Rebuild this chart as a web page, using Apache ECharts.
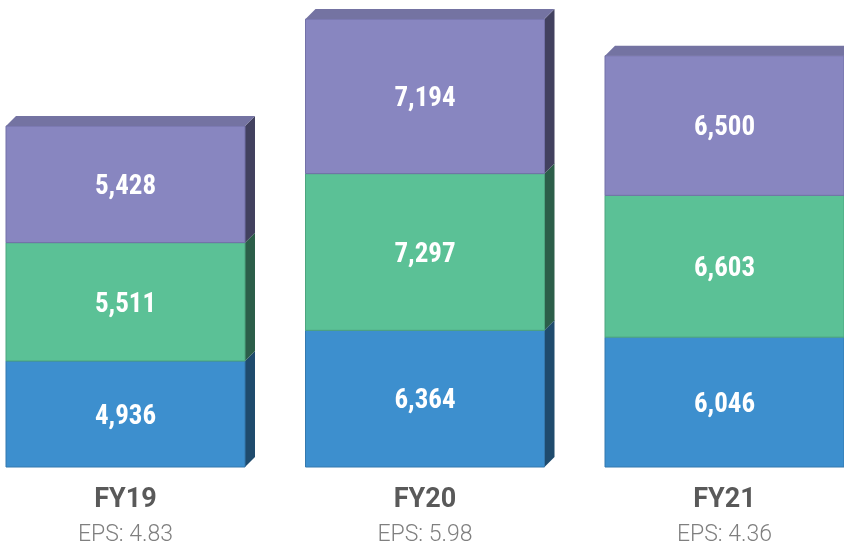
<!DOCTYPE html>
<html>
<head>
<meta charset="utf-8">
<script src="https://cdn.jsdelivr.net/npm/echarts@6/dist/echarts.min.js"></script>
<style>
  html, body { margin: 0; padding: 0; background: #fff; }
  #chart { width: 844px; height: 547px; }
</style>
</head>
<body>
<div id="chart"></div>
<script>
// datos del gráfico
const categories = ['FY19', 'FY20', 'FY21'];
const eps = ['4.83', '5.98', '4.36'];
const seriesNames = ['Capa 1', 'Capa 2', 'Capa 3'];
const layer1 = [4936, 6364, 6046];
const layer2 = [5511, 7297, 6603];
const layer3 = [5428, 7194, 6500];

// colores: frente, borde, lateral, tapa
const front = ['#3d8fce', '#5bc196', '#8886c0'];
const edge = ['#3579ae', '#4da57f', '#7371a8'];
const side = ['#1f4b6d', '#2c5e49', '#42415f'];
const topFace = '#7473a2';

const BAR = 239;
const DEPTH = 10;
const labelFont = "'Roboto Condensed', 'Liberation Sans Narrow', 'Arial Narrow', Roboto, sans-serif";

const layers = [layer1, layer2, layer3];

function buildSeries() {
  const base = categories.map(() => 0);
  return layers.map((vals, li) => {
    const data = categories.map((c, i) => {
      const lo = base[i];
      base[i] += vals[i];
      return [i, lo, base[i], vals[i]];
    });
    const isTop = li === layers.length - 1;
    return {
      type: 'custom',
      name: seriesNames[li],
      encode: { x: 0, y: [1, 2] },
      data,
      renderItem(params, api) {
        const i = api.value(0);
        const lo = api.coord([i, api.value(1)]);
        const hi = api.coord([i, api.value(2)]);
        const cx = lo[0];
        const x0 = cx - BAR / 2, x1 = cx + BAR / 2;
        const yb = lo[1], yt = hi[1];
        const children = [
          {
            type: 'polygon',
            shape: { points: [[x1, yt], [x1 + DEPTH, yt - DEPTH], [x1 + DEPTH, yb - DEPTH], [x1, yb]] },
            style: { fill: side[li] }
          },
          {
            type: 'rect',
            shape: { x: x0, y: yt, width: BAR, height: yb - yt },
            style: { fill: front[li], stroke: edge[li], lineWidth: 1 }
          }
        ];
        if (isTop) {
          children.push({
            type: 'polygon',
            shape: { points: [[x0, yt], [x0 + DEPTH, yt - DEPTH], [x1 + DEPTH, yt - DEPTH], [x1, yt]] },
            style: { fill: topFace }
          });
        }
        children.push({
          type: 'text',
          style: {
            text: Number(api.value(3)).toLocaleString('en-US'),
            x: cx, y: (yt + yb) / 2 + 3,
            align: 'center', verticalAlign: 'middle',
            fill: '#ffffff',
            fontSize: 27, fontWeight: 'bold', fontFamily: labelFont
          }
        });
        return { type: 'group', children };
      }
    };
  });
}

// eje x numérico para poder ubicar las barras como en la imagen
const SPACING = 299.5;
const xMin = -125.5 / SPACING;
const xMax = xMin + 844 / SPACING;

const chart = echarts.init(document.getElementById('chart'));
chart.setOption({
  animation: false,
  grid: { left: 0, right: 0, top: 16, bottom: 80 },
  xAxis: {
    type: 'value',
    min: xMin,
    max: xMax,
    splitLine: { show: false },
    axisLine: { show: false },
    axisTick: { show: false },
    axisLabel: {
      margin: 16,
      customValues: categories.map((c, i) => i),
      formatter: (v) => {
        const i = Math.round(v);
        return `{a|${categories[i]}}\n{b|EPS: ${eps[i]}}`;
      },
      rich: {
        a: { fontSize: 27, fontWeight: 'bold', color: '#595959', fontFamily: 'Roboto', lineHeight: 34 },
        b: { fontSize: 23, fontWeight: 300, color: '#7f7f7f', fontFamily: 'Roboto', lineHeight: 36 }
      }
    }
  },
  yAxis: { type: 'value', min: 0, max: 21000, show: false, splitLine: { show: false } },
  series: buildSeries()
});
window.addEventListener('resize', () => chart.resize());
</script>
</body>
</html>
